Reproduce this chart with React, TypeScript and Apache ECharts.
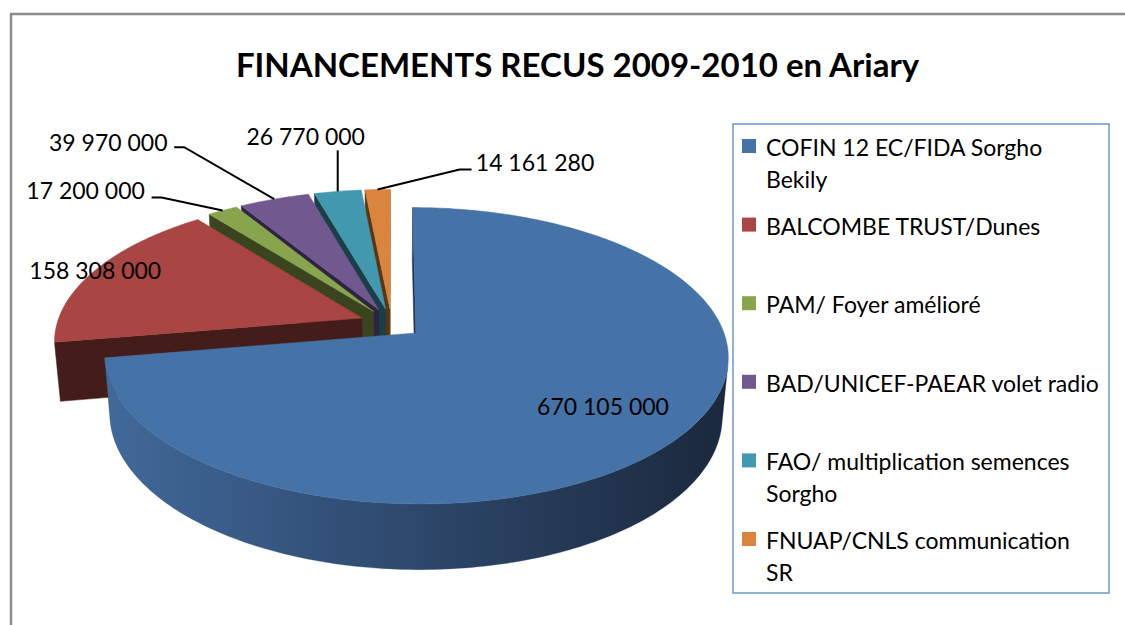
import React, { useEffect, useRef } from "react";
import * as echarts from "echarts";

// ---------- DATA ----------
const categories = [
  "COFIN 12 EC/FIDA Sorgho Bekily",
  "BALCOMBE TRUST/Dunes",
  "PAM/ Foyer amélioré",
  "BAD/UNICEF-PAEAR volet radio",
  "FAO/ multiplication semences Sorgho",
  "FNUAP/CNLS communication SR",
];
const values = [670105000, 158308000, 17200000, 39970000, 26770000, 14161280];
const titleText = "FINANCEMENTS RECUS 2009-2010 en Ariary";

// ---------- STYLE ----------
const topColors = ["#4572A7", "#A94542", "#88A54E", "#71588F", "#4198AF", "#DB843D"];
const sideColors = ["#1E3350", "#441C1A", "#3A4520", "#2E2340", "#1B3E48", "#5A3512"];
const FONT = "Lato, 'Open Sans', sans-serif";

// projection of the 3D pie
const deg = Math.PI / 180;
const F = 1778;
const DIST = 5.83;
const PHI = 27.7 * deg;
const DEPTH = 0.22;
const EXPLODE = 0.104;
const CX = 391.4;
const CY = 323.4;
const CAM = [0, DIST * Math.sin(PHI), -DIST * Math.cos(PHI)];

function project(X: number, Y: number, Z: number): number[] {
  const yc = Y * Math.cos(PHI) + Z * Math.sin(PHI);
  const zc = DIST + Z * Math.cos(PHI) - Y * Math.sin(PHI);
  return [CX + (F * X) / zc, CY - (F * yc) / zc];
}
function facing(nx: number, nz: number, px: number, py: number, pz: number) {
  return nx * (CAM[0] - px) + nz * (CAM[2] - pz) > 0;
}
function fmt(v: number) {
  return String(Math.round(v)).replace(/\B(?=(\d{3})+(?!\d))/g, " ");
}

// label layout (offsets from the rim point at the slice's mid angle)
type LabelLayout = { r?: number; dx?: number; dy?: number; leader?: number[][] };
const labelLayout: LabelLayout[] = [
  { r: 0.73 },
  { r: 1.0 },
  { dx: -137, dy: -20, leader: [[0, 0], [-61, -13], [-71, -13]] },
  { dx: -166, dy: -57.5, leader: [[0, 0], [-90, -52], [-100, -52]] },
  { dx: -32, dy: -55, leader: [[0, 0], [0, -41]] },
  { dx: 157.5, dy: -27, leader: [[0, 0], [82, -20], [94, -20]] },
];

export default function App() {
  const ref = useRef<HTMLDivElement>(null);
  useEffect(() => {
    if (!ref.current) return;
    const chart = echarts.init(ref.current, undefined, { renderer: "svg" });
    const total = values.reduce((a, b) => a + b, 0);
    const starts = values.map((_, i) => values.slice(0, i).reduce((a, b) => a + b, 0));
    // depth ordering: far slices first
    const depthZ = values.map((v, i) => {
      const aHi = 90 - (starts[i] / total) * 360;
      const aLo = aHi - (v / total) * 360;
      const m = ((aHi + aLo) / 2) * deg;
      return Math.sin(m);
    });
    const order = depthZ.map((z, i) => i).sort((a, b) => depthZ[b] - depthZ[a]);
    const rank: number[] = [];
    order.forEach((idx, r) => (rank[idx] = r));

    const blueWall = new echarts.graphic.LinearGradient(0, 0, 1, 0, [
      { offset: 0, color: "#41699A" },
      { offset: 0.45, color: "#2F4B70" },
      { offset: 1, color: "#1B283C" },
    ]);

    const renderItem = (params: any, api: any) => {
      const i = params.dataIndex;
      const v = api.value(0);
      const aHi = 90 - (starts[i] / total) * 360;
      const aLo = aHi - (v / total) * 360;
      const mid = ((aHi + aLo) / 2) * deg;
      const ox = EXPLODE * Math.cos(mid);
      const oz = EXPLODE * Math.sin(mid);
      const n = Math.max(6, Math.ceil(aHi - aLo));
      const angles: number[] = [];
      for (let k = 0; k <= n; k++) angles.push(aLo + ((aHi - aLo) * k) / n);
      const rim = (a: number, y: number, r = 1) =>
        project(ox + r * Math.cos(a * deg), y, oz + r * Math.sin(a * deg));
      const zb = rank[i] * 10;
      const children: any[] = [];
      // cut faces
      const faces: number[][] = [
        [aLo, aLo - 90],
        [aHi, aHi + 90],
      ];
      for (const [a, na] of faces) {
        const px = ox + 0.5 * Math.cos(a * deg);
        const pz = oz + 0.5 * Math.sin(a * deg);
        if (facing(Math.cos(na * deg), Math.sin(na * deg), px, -DEPTH / 2, pz)) {
          children.push({
            type: "polygon",
            z2: zb + 1,
            shape: {
              points: [project(ox, 0, oz), rim(a, 0), rim(a, -DEPTH), project(ox, -DEPTH, oz)],
            },
            style: { fill: sideColors[i], stroke: sideColors[i], lineWidth: 0.5 },
          });
        }
      }
      // outer wall
      const vis = angles.filter((a) =>
        facing(Math.cos(a * deg), Math.sin(a * deg), ox + Math.cos(a * deg), -DEPTH / 2, oz + Math.sin(a * deg))
      );
      if (vis.length > 1) {
        const pts = vis.map((a) => rim(a, 0)).concat(vis.slice().reverse().map((a) => rim(a, -DEPTH)));
        children.push({
          type: "polygon",
          z2: zb + 2,
          shape: { points: pts },
          style: { fill: i === 0 ? blueWall : sideColors[i], stroke: i === 0 ? "#2F4B70" : sideColors[i], lineWidth: 0.3 },
        });
      }
      // top face
      children.push({
        type: "polygon",
        z2: zb + 3,
        shape: { points: [project(ox, 0, oz)].concat(angles.map((a) => rim(a, 0))) },
        style: { fill: topColors[i], stroke: topColors[i], lineWidth: 0.5 },
      });
      // label
      const L = labelLayout[i];
      const midDeg = (aHi + aLo) / 2;
      let tx: number, ty: number;
      if (L.r !== undefined) {
        const p = rim(midDeg, 0, L.r);
        tx = p[0];
        ty = p[1];
      } else {
        const p = rim(midDeg, 0, 1);
        tx = p[0] + (L.dx || 0);
        ty = p[1] + (L.dy || 0);
        if (L.leader) {
          children.push({
            type: "polyline",
            z2: 200,
            shape: { points: L.leader.map((q) => [p[0] + q[0], p[1] + q[1]]) },
            style: { stroke: "#000", lineWidth: 2, fill: null },
          });
        }
      }
      children.push({
        type: "text",
        z2: 201,
        x: tx,
        y: ty,
        style: {
          text: fmt(v),
          fontFamily: FONT,
          fontSize: 23,
          fill: "#000",
          align: "center",
          verticalAlign: "middle",
        },
      });
      return { type: "group", children };
    };

    // legend drawn from categories and colours
    const legendEls: any[] = [
      {
        type: "rect",
        shape: { x: 733, y: 124, width: 376, height: 469 },
        style: { fill: "#fff", stroke: "#6F97CB", lineWidth: 1.5 },
        z: 1,
      },
    ];
    categories.forEach((c, i) => {
      const y0 = 147 + 78.6 * i;
      legendEls.push({
        type: "rect",
        shape: { x: 742, y: y0 - 8, width: 14, height: 14 },
        style: { fill: topColors[i] },
        z: 2,
      });
      legendEls.push({
        type: "text",
        x: 766,
        y: y0 - 16,
        z: 2,
        style: {
          text: c,
          fontFamily: FONT,
          fontSize: 23,
          lineHeight: 32,
          fill: "#000",
          width: 338,
          overflow: "break",
          verticalAlign: "top",
        },
      });
    });

    chart.setOption({
      animation: false,
      backgroundColor: "#fff",
      graphic: [
        {
          type: "rect",
          shape: { x: 11, y: 14, width: 1300, height: 800 },
          style: { fill: "none", stroke: "#8C8C8C", lineWidth: 2.5 },
          z: 0,
        },
        {
          type: "text",
          x: 577.5,
          y: 64,
          style: {
            text: titleText,
            fontFamily: FONT,
            fontWeight: "bold",
            fontSize: 33,
            fill: "#000",
            align: "center",
            verticalAlign: "middle",
          },
        },
        ...legendEls,
      ],
      series: [
        {
          type: "custom",
          coordinateSystem: "none",
          silent: true,
          renderItem,
          data: values.map((v, i) => ({ value: [v], name: categories[i] })),
        },
      ],
    });
    return () => chart.dispose();
  }, []);
  return (
    <div
      ref={ref}
      style={{ position: "fixed", left: 0, top: 0, width: 1125, height: 625 }}
    />
  );
}
